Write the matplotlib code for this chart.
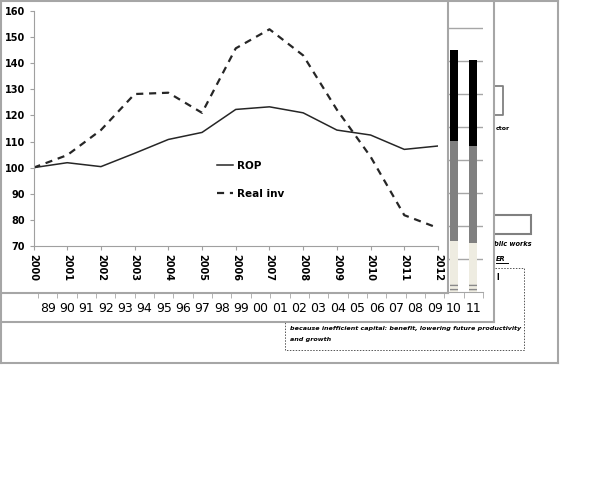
import matplotlib.pyplot as plt
from matplotlib.patches import Rectangle

# ================= DATA =================
years = [2000, 2001, 2002, 2003, 2004, 2005, 2006, 2007, 2008, 2009, 2010, 2011, 2012]
rop = [100, 101.9, 100.4, 105.5, 110.8, 113.5, 122.3, 123.3, 121, 114.4, 112.5, 107, 108.3]
real_inv = [100, 104.8, 114.4, 128.2, 128.7, 121, 145.7, 153, 143, 122.2, 104.2, 81.8, 76.9]

# background bar chart (only the last two bars are visible)
bar_labels = ['89', '90', '91', '92', '93', '94', '95', '96', '97', '98', '99', '00',
              '01', '02', '03', '04', '05', '06', '07', '08', '09', '10', '11']
bar_years = ['10', '11']
seg_striped = [0.24, 0.24]
seg_cream = [1.31, 1.24]
seg_gray = [3.03, 2.94]
seg_black = [2.75, 2.61]

W, H = 600, 480
FRAME = '#a6a6a6'


def px_axes(fig, x0, y0, x1, y1):
    # axes placed by pixel box (top-left origin)
    return fig.add_axes([x0 / W, 1 - y1 / H, (x1 - x0) / W, (y1 - y0) / H])


def frame(ax):
    ax.set_xticks([])
    ax.set_yticks([])
    for s in ax.spines.values():
        s.set_color(FRAME)
        s.set_linewidth(1.5)


fig = plt.figure(figsize=(6, 4.8), dpi=100)

# ================= OUTER FRAME =================
outer = px_axes(fig, 0.8, 0.8, 558, 363)
frame(outer)
outer.set_xlim(0, 558)
outer.set_ylim(363, 0)
outer.set_zorder(0)
outer.plot([480, 503, 503, 480], [85, 85, 114, 114], color='#808080', lw=1.3)
outer.text(496, 128, 'ctor', fontsize=4.5, fontweight='bold', va='center')
outer.add_patch(Rectangle((470, 215), 61, 19, fill=False, ec='#808080', lw=1.5))
outer.text(494, 244, 'blic works', fontsize=4.8, fontweight='bold', style='italic', va='center')
outer.text(496, 259, 'ER', fontsize=4.8, fontweight='bold', style='italic', va='center')
outer.plot([496, 508], [263, 263], color='black', lw=0.7)
outer.text(496, 277, 'l', fontsize=5.5, fontweight='bold', va='center')
outer.add_patch(Rectangle((285, 268), 239, 82, fill=False, ec='#555555', lw=0.7, ls=(0, (1.5, 1.5))))
outer.text(290, 328, 'because inefficient capital: benefit, lowering future productivity',
           fontsize=4.6, style='italic', fontweight='bold', va='center')
outer.text(290, 339, 'and growth', fontsize=4.6, style='italic', fontweight='bold', va='center')

# ================= MIDDLE FRAME + BARS =================
mid = px_axes(fig, 0.8, 0.8, 494, 322)
frame(mid)
mid.set_zorder(1)

bx = fig.add_axes([38 / W, 1 - 292 / H, (483 - 38) / W, 292 / H])
bx.set_zorder(2)
bx.patch.set_alpha(0)
idx = [bar_labels.index(y) for y in bar_years]
b0 = seg_striped
b1 = [a + b for a, b in zip(b0, seg_cream)]
b2 = [a + b for a, b in zip(b1, seg_gray)]
bx.bar(idx, seg_striped, width=0.4, color='#eeece1', hatch='----', edgecolor='#8a8a8a', lw=0, zorder=3)
bx.bar(idx, seg_cream, bottom=b0, width=0.4, color='#eeece1', zorder=3)
bx.bar(idx, seg_gray, bottom=b1, width=0.4, color='#808080', zorder=3)
bx.bar(idx, seg_black, bottom=b2, width=0.4, color='black', zorder=3)
bx.set_xlim(-0.5, len(bar_labels) - 0.5)
bx.set_ylim(0, 8.85)
bx.set_yticks(range(1, 9))
bx.yaxis.grid(True, color='#a6a6a6', lw=1)
bx.tick_params(axis='y', left=False, labelleft=False)
bx.set_xticks(range(len(bar_labels)))
bx.set_xticklabels(bar_labels, fontsize=9)
bx.set_xticks([i - 0.5 for i in range(len(bar_labels) + 1)], minor=True)
bx.tick_params(axis='x', which='major', length=0, pad=7)
bx.tick_params(axis='x', which='minor', length=4, color='#a6a6a6')
for s in ['top', 'right', 'left']:
    bx.spines[s].set_visible(False)
bx.spines['bottom'].set_color('#a6a6a6')

# ================= LINE CHART FRAME =================
lf = px_axes(fig, 0.8, 0.8, 448, 293)
frame(lf)
lf.set_zorder(3)

ax = fig.add_axes([33.5 / W, 1 - 246 / H, (438 - 33.5) / W, (246 - 11) / H])
ax.set_zorder(4)
ax.patch.set_alpha(0)
ax.plot(years, rop, color='#262626', lw=1.1, label='ROP')
ax.plot(years, real_inv, color='#262626', lw=1.6, ls=(0, (3.2, 2.6)), label='Real inv')
ax.set_xlim(2000, 2012)
ax.set_ylim(70, 160)
ax.set_xticks(years)
ax.set_xticklabels([str(y) for y in years], rotation=-90, fontsize=7, fontweight='bold')
ax.set_yticks(range(70, 161, 10))
ax.set_yticklabels([str(v) for v in range(70, 161, 10)], fontsize=7, fontweight='bold')
ax.tick_params(axis='both', length=3, color='#a0a0a0', pad=3)
for s in ['top', 'right']:
    ax.spines[s].set_visible(False)
for s in ['left', 'bottom']:
    ax.spines[s].set_color('#a0a0a0')

leg = ax.legend(loc='upper left', bbox_to_anchor=(0.43, 0.402), frameon=False,
                handlelength=1.6, handletextpad=0.3, labelspacing=1.75,
                prop={'size': 7.5, 'weight': 'bold'})

fig.savefig('out.png', dpi=100)
